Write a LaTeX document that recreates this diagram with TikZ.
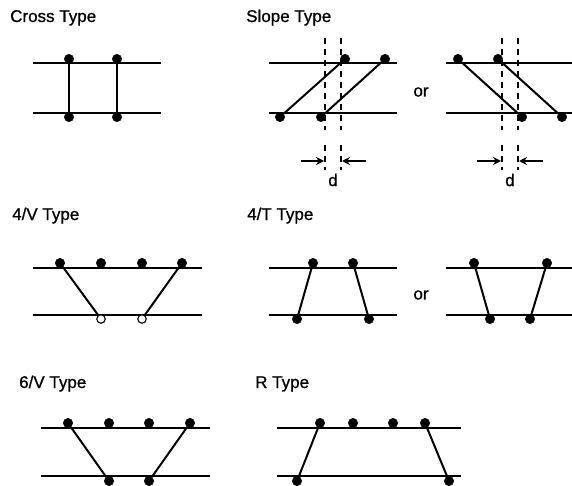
\documentclass[tikz,border=0pt]{standalone}
\usepackage{fontspec}
\setmainfont{Liberation Sans}
\newfontfamily\typefont[FakeBold=0.9]{Liberation Sans}
\usetikzlibrary{arrows.meta,positioning}
\tikzset{
  railline/.style={line width=1.4pt},
  tieline/.style={line width=2pt},
  bolt/.style={circle,fill=black,draw=black,line width=.4pt,inner sep=0pt,minimum size=9.5pt},
  holebolt/.style={circle,fill=white,draw=black,line width=1.1pt,inner sep=0pt,minimum size=8.5pt},
  gapline/.style={line width=1.6pt,dash pattern=on 6pt off 5pt},
  dimarrow/.style={line width=1.3pt,-{Stealth[length=8pt,width=8pt]}},
  typelabel/.style={anchor=base west,inner sep=0pt,font=\typefont\fontsize{17}{19}\selectfont},
  orlabel/.style={inner sep=0pt,font=\typefont\fontsize{17}{19}\selectfont}
}
\newcommand{\railpair}[5]{%
  \draw[railline] (#1,#3) coordinate (#5tl) -- (#2,#3) coordinate (#5tr);
  \draw[railline] (#1,#4) coordinate (#5bl) -- (#2,#4) coordinate (#5br);
}
\newcommand{\gapmark}[7]{%
  \foreach \xpos/\tag in {#1/p,#2/q}{
    \coordinate (#7\tag a) at (\xpos,38);
    \coordinate (#7\tag b) at (\xpos,130);
    \coordinate (#7\tag c) at (\xpos,145);
    \coordinate (#7\tag d) at (\xpos,170);
    \draw[gapline] (#7\tag a) -- (#7\tag b);
    \draw[gapline] (#7\tag c) -- (#7\tag d);
  }
  \coordinate (#7e) at (#3,161);
  \coordinate (#7f) at (#5,161);
  \draw[dimarrow] (#7e) -- (#4,161);
  \draw[dimarrow] (#7f) -- (#6,161);
  \node[orlabel] (#7g) at ({(#1+#2)/2},180) {d};
}
\begin{document}
\begin{tikzpicture}[x=1pt,y=-1pt]
  \useasboundingbox (0,0) rectangle (572,486);
  % titles
  \node[typelabel] (crosstitle) at (10,22) {Cross Type};
  \node[typelabel] (slopetitle) at (246,22) {Slope Type};
  \node[typelabel] (fourvtitle) at (12,220) {4/V Type};
  \node[typelabel] (fourttitle) at (247,220) {4/T Type};
  \node[typelabel] (sixvtitle) at (19,388) {6/V Type};
  \node[typelabel] (rtitle) at (255,388) {R Type};
  \node[orlabel] (orslope) at (421,92) {or};
  \node[orlabel] (orfourt) at (421,295) {or};

  % cross type
  \railpair{33}{161}{63}{113}{cr}
  \foreach \name/\xpos in {c1/69,c2/117}{\node[bolt] (\name) at (\xpos,59) {};}
  \foreach \name/\xpos in {c3/69,c4/117}{\node[bolt] (\name) at (\xpos,117) {};}
  \draw[tieline] (c1) -- (c3);
  \draw[tieline] (c2) -- (c4);

  % slope type
  \railpair{269}{397}{63}{113}{sa}
  \foreach \name/\xpos in {s1/345,s2/385}{\node[bolt] (\name) at (\xpos,59) {};}
  \foreach \name/\xpos in {s3/280,s4/321}{\node[bolt] (\name) at (\xpos,117) {};}
  \draw[tieline] (s3) -- (s1);
  \draw[tieline] (s4) -- (s2);
  \gapmark{325}{341}{301}{324}{366}{342}{ga}

  \railpair{446}{572}{63}{113}{sb}
  \foreach \name/\xpos in {t1/458,t2/498}{\node[bolt] (\name) at (\xpos,59) {};}
  \foreach \name/\xpos in {t3/522,t4/562}{\node[bolt] (\name) at (\xpos,117) {};}
  \draw[tieline] (t1) -- (t3);
  \draw[tieline] (t2) -- (t4);
  \gapmark{502}{518}{477}{501}{543}{519}{gb}

  % 4/V type
  \railpair{33}{202}{268}{315}{fv}
  \foreach \name/\xpos in {v1/60,v2/101,v3/142,v4/182}{\node[bolt] (\name) at (\xpos,263) {};}
  \foreach \name/\xpos in {v5/101,v6/142}{\node[holebolt] (\name) at (\xpos,319) {};}
  \draw[tieline] (v1) -- (v5);
  \draw[tieline] (v4) -- (v6);

  % 4/T type
  \railpair{269}{397}{268}{315}{fa}
  \foreach \name/\xpos in {f1/313,f2/353}{\node[bolt] (\name) at (\xpos,263) {};}
  \foreach \name/\xpos in {f3/297,f4/369}{\node[bolt] (\name) at (\xpos,319) {};}
  \draw[tieline] (f1) -- (f3);
  \draw[tieline] (f2) -- (f4);

  \railpair{446}{572}{268}{315}{fb}
  \foreach \name/\xpos in {g1/474,g2/547}{\node[bolt] (\name) at (\xpos,263) {};}
  \foreach \name/\xpos in {g3/490,g4/530}{\node[bolt] (\name) at (\xpos,319) {};}
  \draw[tieline] (g1) -- (g3);
  \draw[tieline] (g2) -- (g4);

  % 6/V type
  \railpair{41}{210}{428}{476}{sx}
  \foreach \name/\xpos in {x1/68,x2/109,x3/149,x4/190}{\node[bolt] (\name) at (\xpos,423) {};}
  \foreach \name/\xpos in {x5/109,x6/149}{\node[bolt] (\name) at (\xpos,481) {};}
  \draw[tieline] (x1) -- (x5);
  \draw[tieline] (x4) -- (x6);

  % R type
  \railpair{277}{461}{428}{476}{rt}
  \foreach \name/\xpos in {r1/320,r2/353,r3/393,r4/425}{\node[bolt] (\name) at (\xpos,423) {};}
  \foreach \name/\xpos in {r5/297,r6/449}{\node[bolt] (\name) at (\xpos,481) {};}
  \draw[tieline] (r1) -- (r5);
  \draw[tieline] (r4) -- (r6);
\end{tikzpicture}
\end{document}
